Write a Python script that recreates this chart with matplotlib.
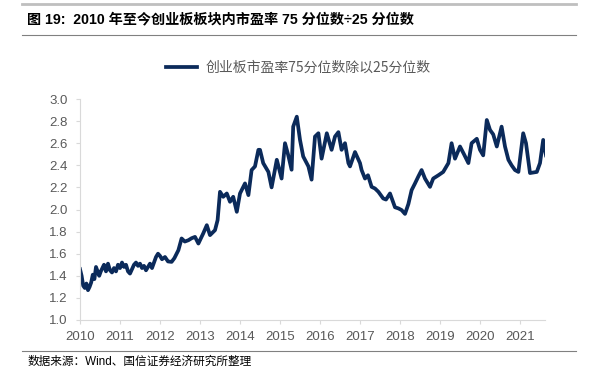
import matplotlib
matplotlib.use("Agg")
import matplotlib.pyplot as plt
from matplotlib.lines import Line2D

plt.rcParams['font.family'] = ['Liberation Sans', 'Noto Sans CJK SC', 'DejaVu Sans']

# ---- data (fractional year, ratio) ----
dates = [
    2010.00, 2010.04, 2010.08, 2010.12, 2010.16, 2010.20, 2010.24, 2010.28, 2010.32, 2010.36,
    2010.40, 2010.45, 2010.48, 2010.52, 2010.56, 2010.60, 2010.65, 2010.70, 2010.75, 2010.80,
    2010.85, 2010.90, 2010.95, 2011.00, 2011.05, 2011.10, 2011.15, 2011.20, 2011.25, 2011.30,
    2011.35, 2011.40, 2011.45, 2011.50, 2011.55, 2011.60, 2011.65, 2011.70, 2011.75, 2011.80,
    2011.85, 2011.90, 2011.95, 2012.00, 2012.05, 2012.125, 2012.20, 2012.29, 2012.36, 2012.46,
    2012.54, 2012.62, 2012.71, 2012.79, 2012.875, 2012.96, 2013.08, 2013.17, 2013.25, 2013.375,
    2013.44, 2013.50, 2013.58, 2013.67, 2013.75, 2013.83, 2013.92, 2014.00, 2014.125, 2014.21,
    2014.29, 2014.375, 2014.46, 2014.50, 2014.58, 2014.71, 2014.79, 2014.92, 2015.04, 2015.125,
    2015.20, 2015.29, 2015.33, 2015.42, 2015.50, 2015.58, 2015.71, 2015.79, 2015.875, 2015.96,
    2016.04, 2016.17, 2016.29, 2016.375, 2016.46, 2016.54, 2016.625, 2016.71, 2016.75, 2016.875,
    2017.00, 2017.04, 2017.125, 2017.20, 2017.29, 2017.375, 2017.46, 2017.58, 2017.65, 2017.75,
    2017.875, 2017.96, 2018.04, 2018.125, 2018.21, 2018.29, 2018.375, 2018.46, 2018.54, 2018.625,
    2018.75, 2018.83, 2018.96, 2019.08, 2019.21, 2019.29, 2019.375, 2019.50, 2019.60, 2019.71,
    2019.79, 2019.92, 2020.00, 2020.08, 2020.17, 2020.25, 2020.33, 2020.42, 2020.54, 2020.625,
    2020.71, 2020.79, 2020.875, 2020.96, 2021.08, 2021.15, 2021.25, 2021.42, 2021.50, 2021.58,
    2021.65,
]
ratio = [
    1.46, 1.40, 1.31, 1.29, 1.33, 1.27, 1.30, 1.34, 1.41, 1.37,
    1.48, 1.43, 1.40, 1.44, 1.47, 1.50, 1.44, 1.51, 1.45, 1.43,
    1.47, 1.44, 1.50, 1.47, 1.52, 1.48, 1.50, 1.44, 1.42, 1.46,
    1.50, 1.52, 1.49, 1.51, 1.47, 1.49, 1.45, 1.48, 1.51, 1.47,
    1.52, 1.57, 1.60, 1.58, 1.55, 1.57, 1.53, 1.526, 1.56, 1.632,
    1.738, 1.71, 1.722, 1.74, 1.752, 1.692, 1.783, 1.858, 1.768, 1.813,
    1.904, 2.16, 2.115, 2.145, 2.07, 2.115, 1.979, 2.145, 2.236, 2.13,
    2.357, 2.39, 2.54, 2.54, 2.42, 2.34, 2.20, 2.45, 2.28, 2.60,
    2.50, 2.36, 2.75, 2.84, 2.63, 2.48, 2.39, 2.27, 2.66, 2.69,
    2.46, 2.69, 2.54, 2.66, 2.70, 2.54, 2.60, 2.42, 2.39, 2.52,
    2.42, 2.357, 2.28, 2.31, 2.205, 2.19, 2.16, 2.10, 2.09, 2.145,
    2.02, 2.01, 1.995, 1.96, 2.05, 2.175, 2.236, 2.30, 2.357, 2.28,
    2.205, 2.28, 2.31, 2.34, 2.42, 2.60, 2.46, 2.57, 2.50, 2.42,
    2.60, 2.64, 2.54, 2.49, 2.81, 2.72, 2.68, 2.57, 2.75, 2.57,
    2.45, 2.40, 2.357, 2.34, 2.69, 2.60, 2.33, 2.34, 2.42, 2.63,
    2.49,
]
year_ticks = list(range(2010, 2022))
y_ticks = [1.0, 1.2, 1.4, 1.6, 1.8, 2.0, 2.2, 2.4, 2.6, 2.8, 3.0]
series_name = "创业板市盈率75分位数除以25分位数"
title = "图 19:  2010 年至今创业板板块内市盈率 75 分位数÷25 分位数"
source = "数据来源：Wind、国信证券经济研究所整理"

W, H = 593, 369
fig = plt.figure(figsize=(W / 100, H / 100), dpi=100)
ax = fig.add_axes([80 / W, (H - 320) / H, (545 - 80) / W, (320 - 99) / H])

line_color = '#0b2a5a'
ax.plot(dates, ratio, color=line_color, lw=2.7, solid_joinstyle='round', label=series_name)

ax.set_xlim(2010, 2021.625)
ax.set_ylim(1.0, 3.0)
ax.set_xticks(year_ticks)
ax.set_xticklabels([str(y) for y in year_ticks])
ax.set_yticks(y_ticks)
ax.set_yticklabels([f"{v:.1f}" for v in y_ticks])

for s in ['top', 'right']:
    ax.spines[s].set_visible(False)
for s in ['left', 'bottom']:
    ax.spines[s].set_color('#d9d9d9')
    ax.spines[s].set_linewidth(0.8)
ax.tick_params(axis='both', colors='#d9d9d9', labelcolor='#595959', labelsize=9.5,
               length=3, width=0.8, direction='out')
ax.tick_params(axis='y', pad=6)
ax.tick_params(axis='x', pad=5)

leg = fig.legend(loc='center', bbox_to_anchor=(0.503, 1 - 68 / H), frameon=False,
                 handlelength=2.2, handletextpad=0.6,
                 prop={'family': ['Noto Sans CJK SC', 'Liberation Sans'], 'size': 10})
for t in leg.get_texts():
    t.set_color('#595959')

fig.text(27 / W, 1 - 19 / H, title, fontsize=10.2, fontweight='bold', color='black',
         va='center', ha='left', family=['Liberation Sans', 'Noto Sans CJK SC'])
fig.text(27 / W, 1 - 362 / H, source, fontsize=8.4, color='black', va='center', ha='left',
         family=['Liberation Sans', 'Noto Sans CJK SC'])

fig.add_artist(Line2D([22 / W, 576 / W], [1 - 3.5 / H, 1 - 3.5 / H], color='#bfbfbf', lw=2))
fig.add_artist(Line2D([22 / W, 576 / W], [1 - 35 / H, 1 - 35 / H], color='#808080', lw=0.8))
fig.add_artist(Line2D([22 / W, 576 / W], [1 - 351 / H, 1 - 351 / H], color='#808080', lw=0.8))

fig.savefig('out.png', dpi=100)
